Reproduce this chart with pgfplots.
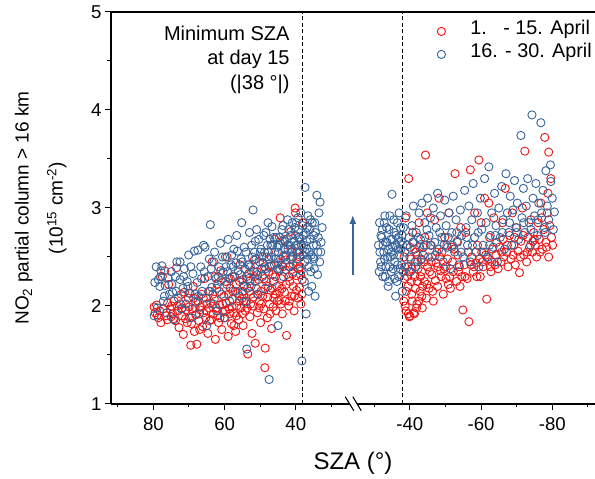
\documentclass[border=0pt]{standalone}
\usepackage{fontspec}
\setmainfont{Liberation Sans}
\usepackage{pgfplots}
\pgfplotsset{compat=1.18}
\usetikzlibrary{arrows.meta,calc}
\definecolor{aprred}{RGB}{240,20,20}
\definecolor{aprblue}{RGB}{55,100,155}

\begin{document}
\begin{tikzpicture}
\begin{axis}[
    name=ax,
    scale only axis,
    width=484pt, height=392pt,
    xmin=-91.9, xmax=44, ymin=1, ymax=5,
    axis x line*=box, axis y line*=left,
    xtick pos=bottom, ytick pos=left,
    tick align=outside,
    major tick length=6pt, minor tick length=3.5pt,
    axis line style={line width=1.2pt},
    tick style={black, line width=1pt},
    xtick={-80,-60,-40,-8,12,32},
    xticklabels={80,60,40,-40,-60,-80},
    minor xtick={-90,-70,-50,-30,-18,2,22,42},
    ytick={1,2,3,4,5},
    yticklabels={1,2,3,4,5},
    minor ytick={1.5,2.5,3.5,4.5},
    ticklabel style={font=\fontsize{18.6}{22}\selectfont},
    xticklabel style={yshift=-4pt},
    every axis y label/.style={at={(axis description cs:-0.145,0.5)}, rotate=90, anchor=center, align=center, font=\fontsize{19}{34}\selectfont},
    every axis x label/.style={at={(axis description cs:0.5,-0.15)}, anchor=center, font=\fontsize{24}{28}\selectfont},
    ylabel={NO\textsubscript{2} partial column > 16 km\\(10\textsuperscript{15} cm\textsuperscript{-2})},
    xlabel={SZA (°)},
    x filter/.expression={x>0 ? -x : -x-48},
    legend style={draw=none, fill=none, at={(1,1)}, anchor=north east, xshift=-2pt, yshift=-13.5pt, inner sep=0pt, row sep=11.5pt,
        font=\fontsize{19.8}{22}\selectfont, nodes={inner sep=1pt, text height=0.75em, text depth=0.2em}},
    legend cell align=left,
    legend image code/.code={\draw plot coordinates {(0pt,0pt)}; \path[draw=none, fill=none] (0pt,0pt) -- (28pt,0pt);},
]

% 1. - 15. April
\addplot[only marks, mark=o, mark size=4.1pt, aprred, mark options={line width=0.9pt}] coordinates {
(79.8,1.99) (79.5,1.93) (79.1,2.01) (78.6,1.88) (78.2,1.95) (77.9,1.83) (77.5,2.30) (76.8,2.36) (76.4,1.90) (76.1,1.86)
(75.7,2.22) (75.3,1.97) (75.0,1.89) (74.6,1.92) (74.2,2.05) (73.8,1.85) (73.5,2.39) (73.1,1.95) (72.8,1.78) (72.4,2.02)
(72.0,1.90) (71.6,1.71) (71.3,2.14) (70.9,1.96) (70.5,1.83) (70.2,2.08) (69.8,1.88) (69.5,1.60) (69.1,1.97) (68.8,2.20)
(68.5,1.74) (68.1,1.91) (67.8,1.61) (67.5,2.05) (67.2,1.85) (66.9,1.96) (66.5,2.12) (66.2,1.79) (65.9,1.93) (65.6,2.28)
(65.3,1.88) (65.0,2.02) (64.7,1.72) (64.4,1.98) (64.1,2.15) (63.8,1.86) (63.5,2.45) (63.2,1.92) (62.9,2.07) (62.6,1.66)
(62.3,1.95) (62.0,2.22) (61.7,1.83) (61.4,2.01) (61.1,2.36) (60.8,1.76) (60.5,1.94) (60.2,2.10) (59.9,1.88) (59.6,2.03)
(59.3,2.50) (59.0,1.69) (58.7,1.97) (58.4,2.18) (58.1,1.82) (57.8,2.07) (57.5,1.93) (57.2,2.30) (56.9,1.74) (56.6,2.00)
(56.3,2.13) (56.0,1.86) (55.7,2.42) (55.4,1.98) (55.1,2.08) (54.8,1.80) (54.5,2.21) (54.2,1.95) (53.9,2.05) (53.5,1.51)
(53.2,2.33) (52.9,1.89) (52.6,2.12) (52.3,1.72) (52.0,2.00) (51.7,2.47) (51.4,1.62) (51.1,2.18) (50.8,1.93) (50.5,2.27)
(50.2,2.05) (49.9,1.83) (49.6,2.38) (49.3,2.10) (49.0,1.97) (48.7,1.37) (48.6,1.57) (48.3,2.25) (48.0,1.88) (47.7,2.55)
(47.4,2.02) (47.1,2.16) (46.8,1.77) (46.5,2.32) (46.2,2.08) (45.9,2.68) (45.6,1.95) (45.3,2.20) (45.0,2.44) (44.7,2.06)
(44.4,2.90) (44.1,2.28) (43.8,1.92) (43.5,2.51) (43.2,2.14) (42.9,2.37) (42.6,1.70) (42.3,2.62) (42.0,2.00) (41.7,2.25)
(41.4,2.76) (41.1,2.10) (40.8,2.43) (40.5,1.95) (40.2,3.00) (40.1,2.95) (39.9,2.31) (39.6,2.55) (39.4,2.08) (39.2,2.70)
(39.0,2.19) (38.8,2.40) (38.6,2.02) (38.4,2.62) (38.2,2.27) (38.1,2.85)
(58.9,2.12) (57.9,1.99) (56.8,2.22) (55.9,2.05) (54.9,2.15) (53.7,1.98) (52.8,2.26) (51.9,2.09) (50.9,2.35) (49.8,2.15)
(48.9,2.28) (47.9,2.09) (46.9,2.41) (45.8,2.12) (44.8,2.36) (43.9,2.18) (42.8,2.47) (41.8,2.05) (40.9,2.33) (39.8,2.16)
(38.9,2.50) (63.9,2.03) (61.9,1.90) (66.7,1.99) (68.7,2.08) (71.9,1.98) (74.9,2.00) (69.9,2.13) (57.4,1.80) (53.1,2.42)
(47.2,1.92) (44.2,2.02) (41.2,2.55) (39.3,2.38) (62.7,2.30) (59.7,2.25) (49.4,2.50) (46.4,1.99) (43.3,2.68) (40.4,2.10)
(78.9,1.91) (77.2,1.97) (76.0,2.03) (74.4,1.87) (73.3,2.00) (72.2,2.12) (71.0,1.87) (70.0,1.99) (69.3,1.82) (68.3,1.98)
(67.0,1.76) (66.0,2.08) (65.1,1.95) (64.2,1.85) (63.3,2.12) (62.4,1.98) (61.5,2.15) (60.6,2.02) (59.8,1.95) (58.8,2.28)
(57.7,2.15) (56.7,1.90) (55.8,2.25) (54.7,2.05) (53.8,2.30) (52.7,2.02) (51.6,2.30) (50.7,2.12) (49.7,2.02) (48.8,2.40)
(47.8,2.20) (46.7,2.18) (45.7,2.30) (44.6,2.15) (43.7,2.40) (42.7,2.22) (41.6,2.40) (40.7,2.20) (39.7,2.45) (38.7,2.32)
(38.3,2.12) (41.9,2.30) (43.0,2.05) (45.2,2.05) (47.6,2.35) (50.3,1.98) (53.0,2.15) (55.0,1.92) (58.5,1.92) (61.3,1.88)
(-38.3,2.05) (-38.6,2.40) (-38.9,1.95) (-39.2,2.62) (-39.5,2.20) (-39.7,3.30) (-39.9,1.89) (-40.2,2.48) (-40.5,2.12) (-40.8,2.75)
(-41.1,1.93) (-41.4,2.30) (-41.7,2.55) (-42.0,2.02) (-42.3,2.38) (-42.6,2.85) (-42.9,2.15) (-43.2,2.47) (-43.5,1.98) (-43.8,2.60)
(-44.1,2.25) (-44.4,3.54) (-44.7,2.08) (-45.0,2.40) (-38.5,2.28) (-39.0,2.15) (-39.8,2.35) (-40.4,2.25) (-41.0,2.65) (-41.6,2.18)
(-42.2,2.52) (-43.0,2.30) (-43.6,2.20) (-44.2,2.70) (-40.0,1.90) (-41.3,1.92) (-42.5,2.05) (-38.8,2.90) (-44.9,2.95)
(-45.4,2.18) (-45.8,2.62) (-46.2,2.32) (-46.6,2.05) (-47.0,2.88) (-47.4,2.44) (-47.8,2.20) (-48.2,3.10) (-48.6,2.36) (-49.0,2.55)
(-49.4,2.12) (-49.8,2.70) (-50.2,2.28) (-50.6,2.48) (-51.0,2.95) (-51.4,2.18) (-51.8,2.60) (-52.2,2.35) (-52.7,3.35) (-53.1,2.25)
(-53.5,2.52) (-53.9,2.40) (-54.3,2.80) (-54.9,1.96) (-54.6,2.30) (-46.0,2.45) (-47.2,2.26) (-48.4,2.50) (-49.6,2.38) (-50.8,2.22)
(-52.0,2.45) (-53.3,2.66) (-54.1,2.20)
(-55.3,2.42) (-55.7,2.75) (-56.1,2.28) (-56.6,1.84) (-57.0,3.39) (-57.4,2.50) (-57.8,2.35) (-58.2,2.95) (-58.6,2.44) (-59.0,2.62)
(-59.4,3.49) (-59.8,2.30) (-60.2,2.55) (-60.6,2.40) (-61.0,3.10) (-61.6,2.07) (-62.0,2.48) (-62.4,2.70) (-62.8,2.35) (-63.2,2.58)
(-63.6,2.90) (-64.0,2.42) (-64.4,2.65) (-64.8,2.38) (-56.4,2.55) (-58.0,2.40) (-59.6,2.48) (-61.3,2.52) (-63.0,2.45) (-60.0,2.85)
(-62.2,3.05)
(-65.2,2.60) (-65.6,2.45) (-66.0,2.85) (-66.4,2.50) (-66.8,3.20) (-67.2,2.55) (-67.6,2.40) (-68.0,2.72) (-68.4,2.48) (-68.8,2.95)
(-69.2,2.62) (-69.6,2.42) (-70.0,2.80) (-70.4,2.56) (-70.8,2.34) (-71.2,2.66) (-71.6,3.00) (-72.0,2.52) (-72.3,3.58) (-72.8,2.45)
(-73.2,2.70) (-73.6,2.60) (-74.0,2.88) (-74.4,2.55) (-74.8,2.75) (-75.2,2.62) (-75.6,2.50) (-76.0,2.85) (-76.4,2.68) (-76.8,3.05)
(-77.2,2.58) (-77.6,2.78) (-77.9,3.72) (-78.2,2.65) (-78.6,2.95) (-79.0,3.57) (-79.0,2.50) (-79.3,2.82) (-79.6,3.30) (-79.8,2.70)
(-80.1,2.62) (-66.2,2.68) (-69.0,2.52) (-71.8,2.72) (-74.6,2.66) (-77.0,2.90) (-78.8,3.15)
(-38.4,2.50) (-39.3,2.30) (-40.1,2.60) (-40.7,2.05) (-41.5,2.45) (-42.1,2.25) (-42.8,2.60) (-43.4,2.10) (-44.0,2.45) (-44.8,2.22)
(-45.6,2.35) (-46.4,2.15) (-47.6,2.55) (-48.8,2.30) (-50.0,2.40) (-51.2,2.30) (-52.4,2.58) (-53.7,2.35) (-55.5,2.30) (-57.2,2.42)
(-58.8,2.30) (-60.4,2.45) (-62.6,2.40) (-64.2,2.52) (-65.8,2.55) (-67.4,2.62) (-69.4,2.70) (-71.0,2.50) (-73.0,2.55) (-75.0,2.68)
(-76.6,2.55) (-78.4,2.60) (-38.7,2.00) (-39.6,1.92) (-40.6,2.38) (-41.9,1.98) (-43.3,2.35) (-45.2,2.50) (-47.9,2.40) (-50.4,2.62)
};
\addlegendentry{1.\phantom{6} - 15. April}

% 16. - 30. April
\addplot[only marks, mark=o, mark size=4.1pt, aprblue, mark options={line width=0.9pt}] coordinates {
(79.8,1.90) (79.6,2.24) (79.2,2.40) (78.9,1.98) (78.6,2.27) (78.2,2.20) (77.9,2.36) (77.6,2.41) (77.2,2.05) (76.7,2.21)
(76.3,1.93) (75.9,2.29) (75.5,2.12) (75.0,2.35) (74.6,2.14) (74.2,1.86) (73.8,2.30) (73.4,2.45) (73.0,2.08) (72.5,2.45)
(72.5,2.27) (72.1,1.97) (71.7,2.18) (71.3,2.38) (70.9,2.02) (70.5,2.25) (70.1,2.52) (69.7,2.13) (69.3,1.88) (68.9,2.33)
(68.5,2.56) (68.1,2.04) (67.7,2.24) (67.5,2.57) (67.1,1.92) (66.7,2.40) (66.3,2.15) (65.9,2.62) (65.5,2.60) (65.2,2.08)
(65.0,1.80) (64.7,2.30) (64.3,2.48) (64.0,2.83) (63.6,2.19) (63.2,2.02) (62.8,2.55) (62.4,2.28) (62.0,1.95) (61.6,2.40)
(61.2,2.64) (60.8,2.12) (60.4,2.35) (60.1,1.88) (59.8,2.50) (59.4,2.22) (59.0,2.68) (58.6,2.05) (58.2,2.42) (57.8,2.30)
(57.4,2.58) (57.0,2.15) (56.6,2.72) (56.2,2.36) (55.8,2.10) (55.2,2.85) (55.4,2.48) (54.9,2.27) (54.5,2.60) (54.1,2.04)
(53.8,1.56) (53.4,2.42) (53.0,2.75) (52.6,2.20) (52.0,2.98) (52.2,2.50) (51.8,2.35) (51.4,2.66) (51.0,2.78) (50.6,2.12)
(50.2,2.45) (49.8,2.58) (49.4,2.30) (49.0,2.72) (48.6,2.18) (48.2,2.50) (47.8,2.85) (47.5,1.25) (47.4,2.40) (47.0,2.62)
(46.7,2.81) (46.3,2.25) (45.9,2.55) (45.5,2.70) (45.1,2.38) (45.0,1.80) (44.7,2.62) (44.3,2.48) (43.9,2.78) (43.5,2.30)
(43.1,2.66) (42.7,2.52) (42.3,2.88) (41.9,2.40) (41.5,2.72) (41.1,2.58) (40.7,2.35) (40.3,2.80) (40.0,2.62) (39.7,2.48)
(39.4,2.90) (39.1,2.70) (38.8,2.55) (38.5,2.36) (38.3,1.44) (38.1,2.82) (37.8,2.62) (37.5,2.45) (37.4,3.21) (37.2,2.75)
(37.1,1.92) (36.9,2.58) (36.6,2.92) (36.3,2.40) (36.0,2.68) (35.7,2.52) (35.4,2.85) (35.1,2.62) (34.8,2.38) (34.5,2.75)
(34.1,3.13) (33.8,2.55) (33.5,2.95) (33.2,3.06) (32.9,2.65) (32.6,2.80)
(70.3,2.20) (68.3,2.12) (66.5,2.28) (63.8,2.38) (62.2,2.18) (61.0,2.26) (59.2,2.35) (58.0,2.52) (56.8,2.44) (55.6,2.32)
(54.3,2.38) (53.2,2.28) (52.4,2.62) (51.2,2.48) (50.0,2.55) (49.2,2.44) (48.0,2.62) (46.9,2.50) (46.0,2.42) (44.9,2.55)
(44.0,2.42) (43.2,2.58) (42.5,2.68) (41.7,2.62) (40.9,2.50) (40.1,2.72) (39.5,2.62) (38.9,2.68) (38.0,2.52) (37.0,2.66)
(36.2,2.55) (35.0,2.72) (34.2,2.62) (42.0,2.78) (44.6,2.70) (47.3,2.68) (39.9,2.85) (38.6,2.95) (36.8,2.80) (35.9,2.88)
(35.5,2.20) (34.6,2.10) (33.9,2.32) (36.4,2.15) (37.6,2.25) (33.3,2.45) (34.9,2.48) (35.8,2.35)
(78.0,2.30) (76.9,2.10) (74.8,2.22) (73.6,2.15) (71.5,2.30) (69.5,2.40) (67.3,2.10) (65.7,2.35) (64.5,2.15) (63.0,2.45)
(61.8,2.30) (60.6,2.50) (59.6,2.40) (58.4,2.28) (57.6,2.40) (56.4,2.56) (55.0,2.45) (54.0,2.55) (53.6,2.18) (52.8,2.40)
(51.6,2.55) (50.8,2.32) (50.4,2.68) (49.6,2.38) (48.8,2.55) (48.4,2.75) (47.6,2.48) (46.5,2.62) (45.7,2.48) (45.3,2.60)
(44.5,2.38) (43.7,2.66) (43.0,2.50) (42.2,2.58) (41.3,2.48) (40.5,2.66) (39.8,2.55) (39.2,2.78) (38.4,2.62) (37.9,2.72)
(37.3,2.55) (36.7,2.48) (36.1,2.78) (35.2,2.50) (34.7,2.85) (33.7,2.70) (33.0,2.55) (41.0,2.85) (43.6,2.82) (46.2,2.70)
(48.5,2.38) (51.4,2.25) (54.6,2.20)
(-31.2,2.62) (-31.5,2.85) (-31.8,2.45) (-32.1,2.70) (-32.4,2.30) (-32.7,2.55) (-33.0,2.92) (-33.3,2.40) (-33.6,2.65) (-33.9,2.20)
(-34.2,2.78) (-34.5,2.50) (-34.8,2.35) (-35.0,3.14) (-35.2,2.60) (-35.5,2.88) (-35.8,2.45) (-36.1,2.72) (-36.4,2.25) (-36.7,2.58)
(-37.0,2.95) (-37.3,2.38) (-37.6,2.66) (-37.9,2.15) (-38.2,2.80) (-31.6,2.55) (-32.3,2.78) (-32.9,2.48) (-33.5,2.80) (-34.0,2.58)
(-34.6,2.68) (-35.3,2.38) (-35.9,2.62) (-36.5,2.85) (-37.1,2.52) (-37.7,2.42) (-38.0,2.62) (-36.0,2.10) (-34.4,2.92) (-32.0,2.40)
(-33.2,2.65) (-36.9,2.30) (-35.6,2.75) (-37.4,2.80) (-34.8,2.55)
(-31.4,2.35) (-31.9,2.72) (-32.5,2.62) (-33.1,2.30) (-33.8,2.50) (-34.3,2.40) (-35.1,2.68) (-35.7,2.28) (-36.3,2.60) (-36.8,2.70)
(-37.5,2.58) (-38.1,2.35) (-32.8,2.85) (-34.1,2.25) (-35.4,2.52) (-36.6,2.42) (-37.8,2.72)
(-38.6,2.55) (-39.0,2.92) (-39.4,2.40) (-39.8,2.70) (-40.2,2.35) (-40.6,2.82) (-41.0,3.02) (-41.4,2.58) (-41.8,2.75) (-42.2,2.45)
(-42.6,2.95) (-43.0,2.68) (-43.4,3.05) (-43.8,2.52) (-44.2,2.85) (-44.6,2.62) (-45.0,3.10)
(-39.2,2.62) (-40.0,2.50) (-40.8,2.65) (-41.6,2.40) (-42.4,2.70) (-43.2,2.48) (-44.0,2.62) (-44.8,2.78)
(-45.4,2.72) (-45.8,2.90) (-46.2,2.50) (-46.6,3.00) (-47.0,2.65) (-47.4,2.80) (-47.8,3.15) (-48.2,2.58) (-48.6,2.92) (-49.0,2.70)
(-49.4,2.45) (-49.8,3.08) (-50.2,2.82) (-50.6,2.60) (-51.0,2.95) (-51.4,2.38) (-51.8,2.75) (-52.2,3.12) (-52.6,2.55) (-53.0,2.88)
(-53.4,2.65) (-53.8,2.42) (-54.2,2.98) (-54.6,2.72) (-55.0,2.50)
(-46.0,2.62) (-47.2,2.52) (-48.4,2.75) (-49.6,2.62) (-50.8,2.70) (-52.0,2.62) (-53.2,2.75) (-54.4,2.55)
(-55.4,3.18) (-55.8,2.80) (-56.2,2.62) (-56.6,3.02) (-57.0,2.45) (-57.4,2.88) (-57.8,3.25) (-58.2,2.70) (-58.6,2.55) (-59.0,2.95)
(-59.4,2.40) (-59.8,3.10) (-60.2,2.78) (-60.6,2.62) (-61.0,3.30) (-61.4,2.85) (-61.8,2.50) (-62.2,3.42) (-62.6,2.72) (-63.0,2.95)
(-63.4,2.60) (-63.8,3.15) (-64.2,2.82) (-64.6,2.45)
(-56.0,2.70) (-57.6,2.62) (-59.2,2.75) (-60.8,2.55) (-62.4,2.62) (-64.0,2.72)
(-65.0,3.00) (-65.4,2.70) (-65.8,3.22) (-66.2,2.88) (-66.6,2.58) (-67.0,3.35) (-67.4,2.95) (-67.8,2.75) (-68.2,3.12) (-68.6,2.62)
(-69.0,2.98) (-69.4,3.28) (-69.8,2.80) (-70.2,3.05) (-70.6,2.68) (-71.2,3.74) (-71.5,2.90) (-71.9,3.20) (-72.3,2.75) (-72.7,3.02)
(-73.1,3.30) (-73.5,2.85) (-73.9,2.62) (-74.3,3.95) (-74.6,3.10) (-75.0,2.92) (-75.4,3.25) (-75.8,2.72) (-76.2,3.05) (-76.8,3.87)
(-77.0,2.95) (-77.4,3.18) (-77.8,2.80) (-78.2,3.38) (-78.6,3.02) (-79.0,2.88) (-79.5,3.44) (-79.6,3.27) (-80.0,3.10) (-80.6,2.96)
(-80.3,2.78) (-66.0,2.75) (-68.0,2.85) (-70.0,2.75) (-72.0,2.85) (-74.0,2.78) (-76.0,2.88) (-78.0,2.75)
};
\addlegendentry{16. - 30. April}

% minimum SZA markers at |38 deg|
\draw[black, line width=1pt, dash pattern=on 4pt off 2.5pt] (axis cs:-38,1) -- (axis cs:-38,5);
\draw[black, line width=1pt, dash pattern=on 4pt off 2.5pt] (axis cs:-10,1) -- (axis cs:-10,5);
\node[anchor=north east, align=right, inner sep=0pt, font=\fontsize{20}{24.5}\selectfont]
    at (axis cs:-41.7,4.86) {Minimum SZA\\at day 15\\(|38 °|)};
\draw[aprblue, line width=1.6pt, -{Latex[length=9pt,width=7pt]}] (axis cs:-24,2.32) -- (axis cs:-24,2.93);
\coordinate (brk) at (axis cs:-24,1);
\end{axis}

% axis break
\fill[white] ($(brk)+(-7.6pt,7.3pt)$) -- ($(brk)+(0pt,7.3pt)$) -- ($(brk)+(8.4pt,-6.7pt)$) -- ($(brk)+(1pt,-6.7pt)$) -- cycle;
\draw[black, line width=1.1pt] ($(brk)+(-7.6pt,7.3pt)$) -- ($(brk)+(1pt,-6.7pt)$);
\draw[black, line width=1.1pt] ($(brk)+(0pt,7.3pt)$) -- ($(brk)+(8.4pt,-6.7pt)$);

\pgfresetboundingbox
\path (ax.south west) ++(-111pt,-75pt) rectangle ++(595pt,479pt);
\end{tikzpicture}
\end{document}
